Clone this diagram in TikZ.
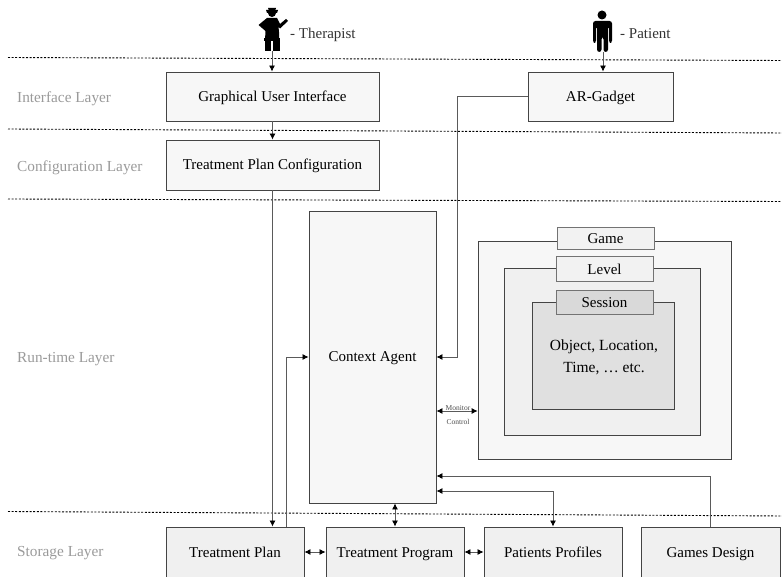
\documentclass[tikz,border=0pt]{standalone}
\usepackage{fontspec}
\setmainfont{Liberation Serif}
\usetikzlibrary{arrows.meta}
\definecolor{edgeg}{HTML}{444444}
\definecolor{lineg}{HTML}{5A5A5A}
\definecolor{layerg}{HTML}{9A9A9A}
\tikzset{
  basebox/.style={draw=edgeg,line width=0.9pt,align=center,inner sep=0pt,font=\fontsize{15}{18}\selectfont,text height=11pt,text depth=1pt},
  lightbox/.style={basebox,fill=black!3},
  storebox/.style={basebox,fill=black!6,minimum width=138pt,minimum height=50pt},
  toprow/.style={lightbox,minimum height=49pt},
  tabbox/.style={basebox,draw=black!55,fill=black!5,line width=1pt,minimum width=97pt},
  regionbox/.style={draw=edgeg,line width=0.8pt,inner sep=0pt},
  layerlabel/.style={text=layerg,anchor=west,inner sep=0pt,font=\fontsize{15.3}{18}\selectfont,text height=11pt,text depth=0pt},
  rolelabel/.style={anchor=west,inner sep=0pt,text=black!80,font=\fontsize{15}{18}\selectfont,text height=11pt,text depth=0pt},
  tinylabel/.style={inner sep=0pt,text=black!70,font=\fontsize{7.5}{9}\selectfont},
  sep/.style={black,line width=0.9pt,dash pattern=on 2pt off 1.6pt},
  conn/.style={draw=lineg,line width=0.8pt},
  arr/.style={conn,-{Latex[black,length=6pt,width=6pt]}},
  dbl/.style={conn,{Latex[black,length=6pt,width=6pt]}-{Latex[black,length=6pt,width=6pt]}},
}
\begin{document}
\begin{tikzpicture}[x=1pt,y=-1pt]
\useasboundingbox (0,0) rectangle (782,577);
\clip (0,0) rectangle (782,576.4);
% layer separators
\coordinate (s1a) at (8,57.5);   \coordinate (s1b) at (782,60.5);
\coordinate (s2a) at (8,129);    \coordinate (s2b) at (782,133);
\coordinate (s3a) at (8,199);    \coordinate (s3b) at (782,201.5);
\coordinate (s4a) at (8,511.5);  \coordinate (s4b) at (782,516);
\draw[sep] (s1a) -- (s1b);
\draw[sep] (s2a) -- (s2b);
\draw[sep] (s3a) -- (s3b);
\draw[sep] (s4a) -- (s4b);
% layer labels
\node[layerlabel] (l1) at (17,97) {Interface Layer};
\node[layerlabel] (l2) at (17,166) {Configuration Layer};
\node[layerlabel] (l3) at (17,357) {Run-time Layer};
\node[layerlabel] (l4) at (17,551) {Storage Layer};
% therapist figure
\fill[black] (272,13) circle (4);
\fill[black] (266,10) -- (278,10) -- (277,13) -- (267,13) -- cycle;
\fill[black] (268,8) -- (276,8) -- (275,11) -- (269,11) -- cycle;
\fill[black] (267,18) -- (277,18) -- (280,24) -- (286,19) -- (288,21) -- (280,28.5)
  -- (278.5,27) -- (279,32) -- (279,40) -- (265,40) -- (265.5,31) -- (258.5,25) -- cycle;
\fill[black] (264,38) rectangle (280,41);
\fill[black] (264.5,41) rectangle (271,51.5);
\fill[black] (273,41) rectangle (279.5,51.5);
\coordinate (therapist) at (272,51.5);
\node[rolelabel] (tlabel) at (290,33) {- Therapist};
% patient figure
\fill[black] (602,15) circle (4.5);
\fill[black,rounded corners=2.5pt] (593,43) -- (593,21) -- (612,21) -- (612,43) -- (609,43)
  -- (609,26) -- (608,26) -- (608,52) -- (603.5,52) -- (603.5,37) -- (601.5,37) -- (601.5,52) -- (597,52)
  -- (597,26) -- (596,26) -- (596,43) -- cycle;
\coordinate (patient) at (603,52);
\node[rolelabel] (plabel) at (620,33) {- Patient};
% top boxes
\node[toprow,minimum width=213pt] (gui) at (272.5,96.5) {Graphical User Interface};
\node[toprow,minimum width=145pt] (ar) at (600.5,96.5) {AR-Gadget};
\node[lightbox,minimum width=213pt,minimum height=50pt] (tpc) at (272.5,165) {Treatment Plan Configuration};
% context agent
\node[lightbox,minimum width=127pt,minimum height=292pt] (ca) at (372.5,357) {Context Agent};
% nested game regions
\node[regionbox,fill=black!3,minimum width=253pt,minimum height=218pt] (game) at (604.5,350) {};
\node[regionbox,fill=black!6,minimum width=196pt,minimum height=167pt] (level) at (602,351.5) {};
\node[regionbox,fill=black!12,minimum width=142pt,minimum height=107pt] (session) at (603,355.5) {};
\node[tabbox,minimum height=22pt] (gametab) at (605.5,239) {Game};
\node[tabbox,minimum height=25pt] (leveltab) at (604.5,269.5) {Level};
\node[tabbox,fill=black!15,minimum height=24pt] (sessiontab) at (604.5,303) {Session};
\node[align=center,inner sep=0pt,font=\fontsize{15.5}{22}\selectfont] (objects) at (604,357) {Object, Location,\\Time, … etc.};
% storage boxes
\node[storebox] (plan) at (235,552) {Treatment Plan};
\node[storebox] (prog) at (395,552) {Treatment Program};
\node[storebox] (prof) at (553,552) {Patients Profiles};
\node[storebox,minimum width=139pt] (design) at (710.5,552) {Games Design};
% connectors
\draw[arr] (therapist) -- (therapist |- gui.north);
\draw[arr] (patient) -- (patient |- ar.north);
\draw[arr] (gui.south) -- (tpc.north);
\draw[arr] (tpc.south) -- (tpc.south |- plan.north);
\draw[arr] ([xshift=51pt]plan.north) |- (ca.west);
\draw[arr] (ar.west) -- ++(-70,0) |- (ca.east);
\draw[dbl] (prog.north |- ca.south) -- (prog.north);
\draw[dbl] ([yshift=-54pt]ca.east) -- ([yshift=-61pt]game.west);
\draw[dbl] (plan.east) -- (prog.west);
\draw[dbl] (prog.east) -- (prof.west);
\draw[dbl] (prof.north) |- ([yshift=-134pt]ca.east);
\draw[arr] (design.north) |- ([yshift=-119pt]ca.east);
\node[tinylabel] (mon) at (458,408) {Monitor};
\node[tinylabel] (ctl) at (458,422) {Control};
\end{tikzpicture}
\end{document}
